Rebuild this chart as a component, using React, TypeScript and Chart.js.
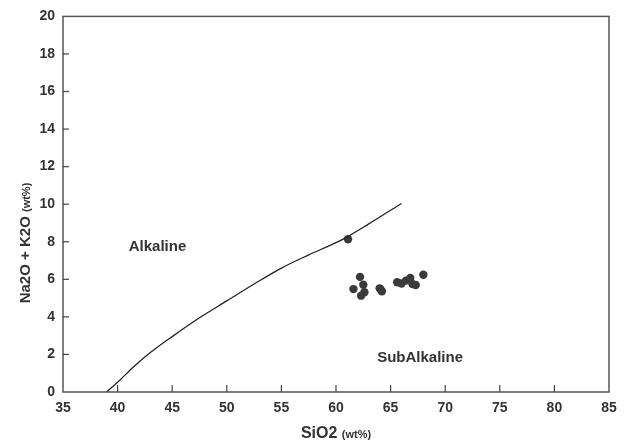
import React, { useEffect, useRef } from "react";
import { Chart, registerables } from "chart.js";

Chart.register(...registerables);

// Alkaline / SubAlkaline dividing curve (SiO2, Na2O+K2O)
const curveSiO2 = [39.0, 40.2, 41.4, 43.0, 45.0, 47.5, 50.0, 52.5, 55.0, 57.5, 60.0, 61.0, 63.0, 66.0];
const curveAlk = [0, 0.63, 1.31, 2.1, 2.95, 3.95, 4.85, 5.75, 6.6, 7.3, 7.95, 8.25, 8.95, 10.04];

// Sample points
const sampleSiO2 = [61.1, 62.2, 61.6, 62.5, 62.6, 62.3, 64.0, 64.2, 64.1, 65.6, 66.0, 66.4, 66.8, 67.0, 67.3, 68.0];
const sampleAlk = [8.13, 6.13, 5.48, 5.71, 5.31, 5.13, 5.52, 5.36, 5.45, 5.84, 5.78, 5.93, 6.07, 5.75, 5.70, 6.24];

const xTickValues = [35, 40, 45, 50, 55, 60, 65, 70, 75, 80, 85];
const yTickValues = [0, 2, 4, 6, 8, 10, 12, 14, 16, 18, 20];

const fieldLabels = ["Alkaline", "SubAlkaline"];
const fieldLabelX = [43.65, 67.7];
const fieldLabelY = [7.74, 1.8];

const FONT = "'Liberation Sans', Arial, sans-serif";
const INK = "#333333";

const decorPlugin = {
  id: "decor",
  afterDraw(chart: any) {
    const { ctx, chartArea } = chart;
    const xs = chart.scales.x;
    const ys = chart.scales.y;
    ctx.save();
    // frame
    ctx.strokeStyle = "#555";
    ctx.lineWidth = 1.5;
    ctx.strokeRect(chartArea.left, chartArea.top, chartArea.right - chartArea.left, chartArea.bottom - chartArea.top);
    // inner ticks
    ctx.lineWidth = 1.2;
    ctx.strokeStyle = "#444";
    xTickValues.slice(1, -1).forEach((v) => {
      const px = xs.getPixelForValue(v);
      ctx.beginPath();
      ctx.moveTo(px, chartArea.bottom);
      ctx.lineTo(px, chartArea.bottom - 7);
      ctx.stroke();
    });
    yTickValues.slice(1, -1).forEach((v) => {
      const py = ys.getPixelForValue(v);
      ctx.beginPath();
      ctx.moveTo(chartArea.left, py);
      ctx.lineTo(chartArea.left + 6, py);
      ctx.stroke();
    });
    // field labels
    ctx.fillStyle = INK;
    ctx.font = `bold 15px ${FONT}`;
    ctx.textAlign = "center";
    ctx.textBaseline = "middle";
    fieldLabels.forEach((t, i) => {
      ctx.fillText(t, xs.getPixelForValue(fieldLabelX[i]), ys.getPixelForValue(fieldLabelY[i]));
    });
    const drawMixed = (big: string, small: string, bigSize: number, smallSize: number) => {
      ctx.font = `bold ${bigSize}px ${FONT}`;
      const w1 = ctx.measureText(big + " ").width;
      ctx.font = `bold ${smallSize}px ${FONT}`;
      const w2 = ctx.measureText(small).width;
      const total = w1 + w2;
      ctx.textAlign = "left";
      ctx.textBaseline = "alphabetic";
      ctx.font = `bold ${bigSize}px ${FONT}`;
      ctx.fillText(big + " ", -total / 2, 0);
      ctx.font = `bold ${smallSize}px ${FONT}`;
      ctx.fillText(small, -total / 2 + w1, 0);
    };
    ctx.save();
    ctx.translate((chartArea.left + chartArea.right) / 2, 438);
    drawMixed("SiO2", "(wt%)", 16, 11);
    ctx.restore();
    ctx.save();
    ctx.translate(30, 243);
    ctx.rotate(-Math.PI / 2);
    drawMixed("Na2O + K2O", "(wt%)", 15, 11);
    ctx.restore();
    ctx.restore();
  },
};

export default function App() {
  const ref = useRef<HTMLCanvasElement | null>(null);
  useEffect(() => {
    if (!ref.current) return;
    const chart = new Chart(ref.current, {
      type: "scatter",
      data: {
        datasets: [
          {
            label: "boundary",
            data: curveSiO2.map((x, i) => ({ x, y: curveAlk[i] })),
            showLine: true,
            borderColor: "#222",
            borderWidth: 1.3,
            pointRadius: 0,
            cubicInterpolationMode: "monotone",
          },
          {
            label: "samples",
            data: sampleSiO2.map((x, i) => ({ x, y: sampleAlk[i] })),
            pointRadius: 4.2,
            backgroundColor: "#3a3a3a",
            borderColor: "#3a3a3a",
            borderWidth: 0,
          },
        ],
      },
      options: {
        animation: false,
        responsive: true,
        maintainAspectRatio: false,
        layout: { padding: { left: 0, top: 13, right: 18, bottom: 0 } },
        plugins: { legend: { display: false }, tooltip: { enabled: false } },
        scales: {
          x: {
            type: "linear",
            min: 35,
            max: 85,
            afterFit: (s: any) => { s.height = 52; },
            afterBuildTicks: (s: any) => { s.ticks = xTickValues.map((v) => ({ value: v })); },
            ticks: { color: INK, font: { family: FONT, size: 14, weight: "bold" }, padding: 8 },
            grid: { display: false, drawTicks: false },
            border: { display: false },
          },
          y: {
            type: "linear",
            min: 0,
            max: 20,
            afterFit: (s: any) => { s.width = 63; },
            afterBuildTicks: (s: any) => { s.ticks = yTickValues.map((v) => ({ value: v })); },
            ticks: { color: INK, font: { family: FONT, size: 14, weight: "bold" }, padding: 8 },
            grid: { display: false, drawTicks: false },
            border: { display: false },
          },
        },
      },
      plugins: [decorPlugin],
    });
    return () => chart.destroy();
  }, []);
  return (
    <div style={{ position: "absolute", left: 0, top: 0, width: 627, height: 444, background: "#fff" }}>
      <canvas ref={ref} />
    </div>
  );
}
